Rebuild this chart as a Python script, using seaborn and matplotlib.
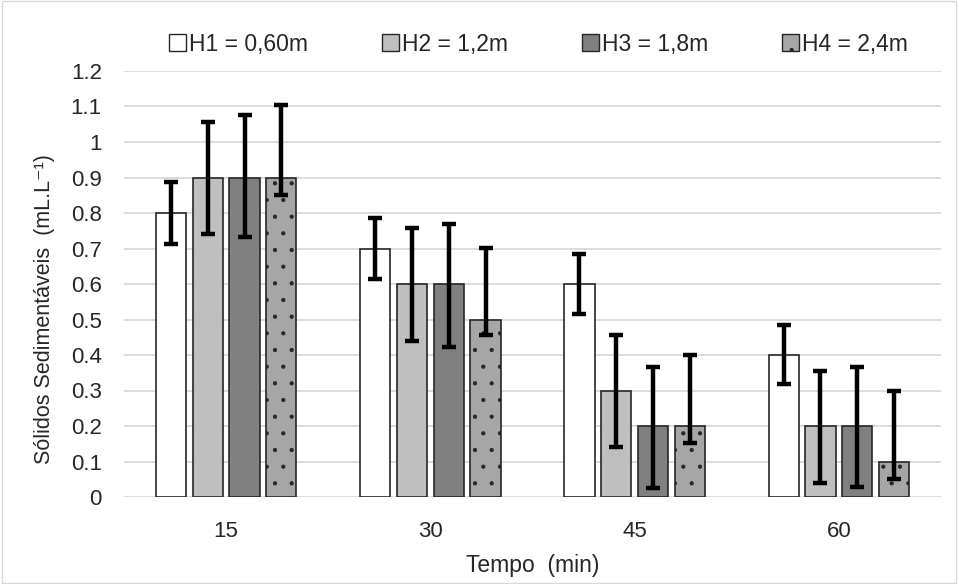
import numpy as np
import pandas as pd
import matplotlib
matplotlib.use("Agg")
import matplotlib.pyplot as plt
import seaborn as sns
from matplotlib.patches import Patch

# --- dados ---
tempos = ["15", "30", "45", "60"]
series = ["H1 = 0,60m", "H2 = 1,2m", "H3 = 1,8m", "H4 = 2,4m"]
h1 = [0.8, 0.7, 0.6, 0.4]
h2 = [0.9, 0.6, 0.3, 0.2]
h3 = [0.9, 0.6, 0.2, 0.2]
h4 = [0.9, 0.5, 0.2, 0.1]
# extremos das barras de erro (superior / inferior)
h1_sup = [0.886, 0.786, 0.684, 0.485]
h1_inf = [0.713, 0.614, 0.515, 0.318]
h2_sup = [1.056, 0.758, 0.456, 0.355]
h2_inf = [0.741, 0.440, 0.141, 0.039]
h3_sup = [1.076, 0.769, 0.366, 0.366]
h3_inf = [0.732, 0.423, 0.025, 0.028]
h4_sup = [1.104, 0.701, 0.400, 0.300]
h4_inf = [0.851, 0.456, 0.152, 0.051]
yticks = [0, 0.1, 0.2, 0.3, 0.4, 0.5, 0.6, 0.7, 0.8, 0.9, 1.0, 1.1, 1.2]

valores = [h1, h2, h3, h4]
sup = [h1_sup, h2_sup, h3_sup, h4_sup]
inf = [h1_inf, h2_inf, h3_inf, h4_inf]

rows = []
for s, v in zip(series, valores):
    for t, y in zip(tempos, v):
        rows.append({"Tempo": t, "Serie": s, "Valor": y})
df = pd.DataFrame(rows)

sns.set_theme(style="white")
plt.rcParams["font.family"] = ["Liberation Sans", "DejaVu Sans"]
plt.rcParams["hatch.linewidth"] = 0.6
plt.rcParams["hatch.color"] = "#262626"

cores = ["#ffffff", "#bfbfbf", "#808080", "#a6a6a6"]
hatches = ["", "", "", "."]
txt = "#262626"

fig = plt.figure(figsize=(9.58, 5.84), dpi=100)
ax = fig.add_axes([124 / 958, 1 - 497 / 584, (941 - 124) / 958, (497 - 71) / 584])

sns.barplot(data=df, x="Tempo", y="Valor", hue="Serie", order=tempos, hue_order=series,
            palette=cores, width=0.72, gap=0.18, errorbar=None, edgecolor="#262626",
            linewidth=1.2, legend=False, ax=ax, zorder=2)

# hachura e barras de erro
n = len(tempos)
for i, s in enumerate(series):
    bars = ax.patches[i * n:(i + 1) * n]
    for j, b in enumerate(bars):
        b.set_hatch(hatches[i])
        xc = b.get_x() + b.get_width() / 2
        y = valores[i][j]
        ax.errorbar(xc, y, yerr=[[y - inf[i][j]], [sup[i][j] - y]], fmt="none",
                    ecolor="black", elinewidth=3.2, capsize=5, capthick=3.2, zorder=3)

ax.set_ylim(0, 1.2)
ax.set_xlim(-0.5, n - 0.5)
ax.set_yticks(yticks)
ax.set_yticklabels([f"{v:g}" for v in yticks])
ax.yaxis.grid(True, color="#d9d9d9", linewidth=1.3, zorder=0)
ax.set_axisbelow(True)
for sp in ax.spines.values():
    sp.set_visible(False)
ax.tick_params(axis="both", length=0, labelsize=16, colors=txt)
ax.tick_params(axis="y", pad=16)
ax.tick_params(axis="x", pad=17)

ax.set_xlabel("Tempo  (min)", fontsize=16.5, color=txt, labelpad=9)
ax.set_ylabel("Sólidos Sedimentáveis  (mL.L⁻¹)", fontsize=15.5, color=txt)
ax.yaxis.set_label_coords(-0.085, 0.44)

# legenda
handles = [Patch(facecolor=c, edgecolor="#262626", hatch=h, label=s)
           for c, h, s in zip(cores, hatches, series)]
fig.legend(handles=handles, loc="center", bbox_to_anchor=(0.562, 1 - 44 / 584), ncol=4,
           frameon=False, fontsize=16.5, handlelength=0.75, handleheight=0.75,
           handletextpad=0.15, columnspacing=3.2, labelcolor=txt)

# moldura
fig.patches.append(plt.Rectangle((0.002, 0.002), 0.996, 0.996, transform=fig.transFigure,
                                 fill=False, edgecolor="#d9d9d9", linewidth=1))

fig.savefig("out.png", dpi=100)
